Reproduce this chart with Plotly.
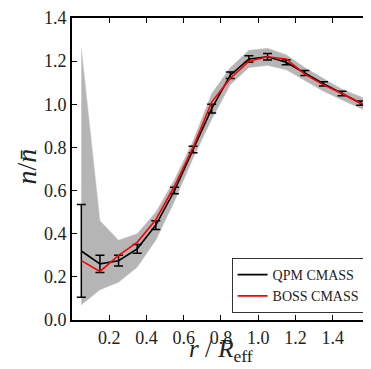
import plotly.graph_objects as go

# radial bins r / R_eff
r_bins = [0.05, 0.15, 0.25, 0.35, 0.45, 0.55, 0.65, 0.75, 0.85, 0.95, 1.05, 1.15, 1.25, 1.35, 1.45, 1.55, 1.65]

# QPM CMASS mean profile and error bars
qpm_mean = [0.32, 0.26, 0.275, 0.33, 0.44, 0.60, 0.79, 0.98, 1.135, 1.21, 1.22, 1.195, 1.145, 1.095, 1.05, 1.005, 0.97]
qpm_err = [0.215, 0.04, 0.025, 0.02, 0.02, 0.015, 0.015, 0.02, 0.015, 0.015, 0.015, 0.012, 0.012, 0.01, 0.01, 0.01, 0.01]

# BOSS CMASS profile
boss = [0.275, 0.225, 0.30, 0.36, 0.465, 0.62, 0.80, 1.01, 1.12, 1.20, 1.22, 1.21, 1.14, 1.09, 1.05, 1.005, 0.975]

# envelope of the individual mock profiles (grey spaghetti)
mock_upper = [1.26, 0.46, 0.37, 0.40, 0.50, 0.65, 0.83, 1.05, 1.17, 1.25, 1.26, 1.23, 1.17, 1.12, 1.07, 1.035, 1.00]
mock_lower = [0.07, 0.14, 0.175, 0.245, 0.37, 0.55, 0.75, 0.93, 1.09, 1.17, 1.18, 1.16, 1.11, 1.06, 1.02, 0.98, 0.95]

x_ticks = [0.2, 0.4, 0.6, 0.8, 1.0, 1.2, 1.4]
y_ticks = [0.0, 0.2, 0.4, 0.6, 0.8, 1.0, 1.2, 1.4]

SERIF = "Liberation Serif, DejaVu Serif, serif"

fig = go.Figure()

fig.add_trace(go.Scatter(
    x=r_bins + r_bins[::-1],
    y=mock_upper + mock_lower[::-1],
    fill="toself", fillcolor="#b5b5b5",
    line=dict(width=0.5, color="#c4c4c4"),
    mode="lines", hoverinfo="skip", showlegend=False,
))

fig.add_trace(go.Scatter(
    x=r_bins, y=qpm_mean, mode="lines", name="QPM CMASS",
    line=dict(color="black", width=1.6),
    error_y=dict(type="data", array=qpm_err, visible=True,
                 color="black", thickness=1.5, width=4.5),
))

fig.add_trace(go.Scatter(
    x=r_bins, y=boss, mode="lines", name="BOSS CMASS",
    line=dict(color="#ff0000", width=1.6),
))

axis_common = dict(
    showline=True, linecolor="black", linewidth=2, mirror="ticks",
    ticks="inside", ticklen=5, tickwidth=1, tickcolor="black",
    showgrid=False, zeroline=False, ticklabeloverflow="allow",
    tickfont=dict(family=SERIF, size=18, color="#222"),
)

fig.update_xaxes(range=[0, 1.5947], tickvals=x_ticks, tickformat=".1f", **axis_common)
fig.update_yaxes(range=[0, 1.4], tickvals=y_ticks, tickformat=".1f", **axis_common)

fig.update_layout(
    width=363, height=361,
    margin=dict(l=64, r=0, t=7, b=49),
    plot_bgcolor="white", paper_bgcolor="white",
    showlegend=True,
    legend=dict(
        x=0.985, y=0.023, xanchor="right", yanchor="bottom",
        bgcolor="white", bordercolor="#333", borderwidth=1,
        font=dict(family=SERIF, size=14, color="#222"),
        tracegroupgap=0, itemwidth=30,
    ),
    annotations=[
        dict(text="<i>r</i> / <i>R</i><sub>eff</sub>", xref="paper", yref="paper",
             x=0.5, y=-0.16, xanchor="center", yanchor="bottom", showarrow=False,
             font=dict(family=SERIF, size=25, color="#222")),
        dict(text="<i>n</i>/<i>n\u0304</i>", xref="paper", yref="paper",
             x=-0.15, y=0.51, xanchor="center", yanchor="middle", showarrow=False,
             textangle=-90, font=dict(family=SERIF, size=28, color="#222")),
    ],
)

fig.write_html("out.html")
